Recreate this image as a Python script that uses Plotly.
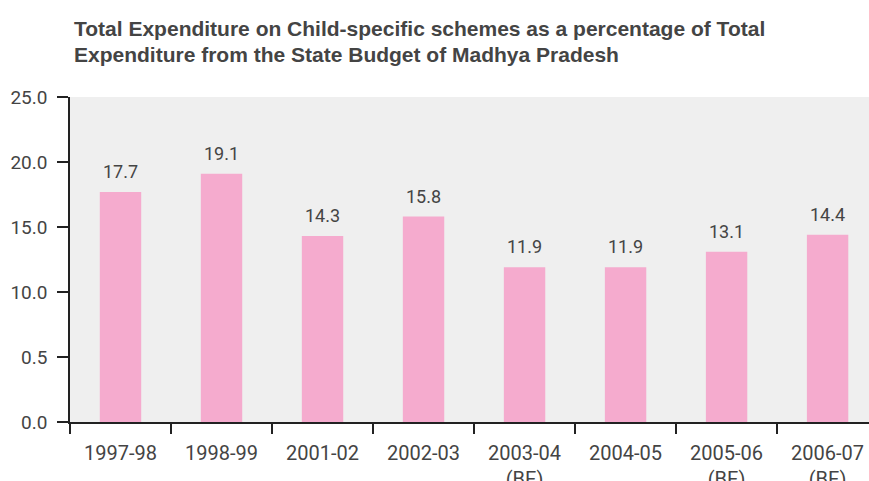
import plotly.graph_objects as go

# Fiscal years and share of state budget spent on child-specific schemes (%)
years = ["1997-98", "1998-99", "2001-02", "2002-03", "2003-04<br>(BE)",
         "2004-05", "2005-06<br>(BE)", "2006-07<br>(BE)"]
share = [17.7, 19.1, 14.3, 15.8, 11.9, 11.9, 13.1, 14.4]
value_labels = ["17.7", "19.1", "14.3", "15.8", "11.9", "11.9", "13.1", "14.4"]

y_tickvals = [0, 5, 10, 15, 20, 25]
y_ticktext = ["0.0", "0.5", "10.0", "15.0", "20.0", "25.0"]

title_lines = [
    "Total Expenditure on Child-specific schemes as a percentage of Total",
    "Expenditure from the State Budget of Madhya Pradesh",
]

TEXT = "#444444"
BAR = "#f5abce"
H, TOP, BOTTOM = 481, 97, 59
PLOT_H = H - TOP - BOTTOM

fig = go.Figure()
fig.add_trace(go.Bar(
    x=years, y=share, marker=dict(color=BAR, line=dict(width=0)),
    width=0.41, hoverinfo="skip",
))

for x, y, t in zip(years, share, value_labels):
    fig.add_annotation(x=x, y=y, text=t, showarrow=False, yanchor="bottom",
                       yshift=8, font=dict(family="Roboto", size=18, color=TEXT))

# two-line heading, placed in pixels above the plot area
for line, y_px in zip(title_lines, [29, 54]):
    fig.add_annotation(
        text=line, showarrow=False, xref="paper", yref="paper",
        x=(72 - 70) / (869 - 70), xanchor="left",
        y=(H - BOTTOM - y_px) / PLOT_H, yanchor="middle",
        font=dict(family="Liberation Sans", size=21, color=TEXT, weight="bold"),
    )

fig.update_layout(
    width=869, height=H,
    margin=dict(l=70, r=0, t=TOP, b=BOTTOM, autoexpand=False),
    paper_bgcolor="white", plot_bgcolor="#efefef",
    showlegend=False,
    xaxis=dict(
        type="category", range=[-0.5, 7.41], tickson="boundaries",
        ticks="outside", ticklen=10, tickwidth=1.5, tickcolor="#222",
        showline=True, linecolor="#222", linewidth=1.5,
        showgrid=False, zeroline=False, ticklabelstandoff=12,
        automargin=False,
        tickfont=dict(family="Roboto", size=20, color=TEXT),
    ),
    yaxis=dict(
        range=[0, 25], tickvals=y_tickvals, ticktext=y_ticktext,
        ticks="outside", ticklen=11, tickwidth=1.5, tickcolor="#222",
        showline=True, linecolor="#222", linewidth=1.5,
        showgrid=False, zeroline=False, ticklabelstandoff=6,
        automargin=False,
        tickfont=dict(family="Roboto", size=19, color=TEXT),
    ),
)

fig.write_html("out.html")
